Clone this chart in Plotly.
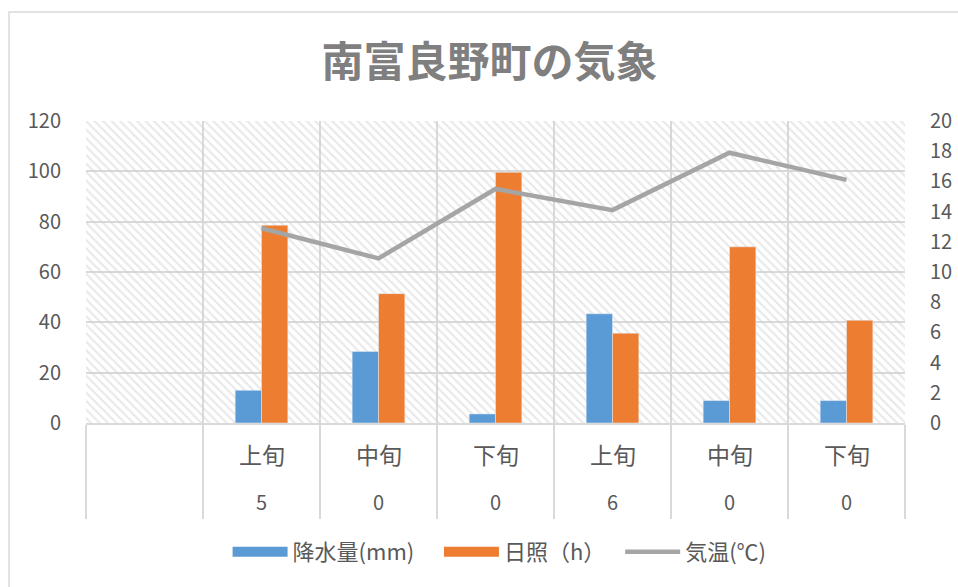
import plotly.graph_objects as go

# 旬別の気象データ(南富良野町)
periods = ["", "上旬", "中旬", "下旬", "上旬", "中旬", "下旬"]
months = ["", "5", "0", "0", "6", "0", "0"]
rain_mm = [None, 13.0, 28.4, 3.6, 43.4, 8.9, 8.9]
sun_h = [None, 78.6, 51.4, 99.6, 35.7, 70.0, 40.8]
temp_c = [None, 12.9, 10.9, 15.5, 14.1, 17.9, 16.1]

series_names = ["降水量(mm)", "日照（h）", "気温(℃)"]
left_ticks = list(range(0, 121, 20))
right_ticks = list(range(0, 21, 2))

BLUE = "#5b9bd5"
ORANGE = "#ed7d31"
GRAY = "#a5a5a5"
GRID = "#d9d9d9"
TEXT = "#595959"
FONT = "Noto Sans CJK JP"

pos = list(range(len(periods)))
bounds = [p - 0.5 for p in pos] + [pos[-1] + 0.5]

fig = go.Figure()

# hatched plot-area background on the base subplot
fig.add_trace(go.Scatter(
    x=[0, 1, 1, 0, 0], y=[0, 0, 1, 1, 0],
    xaxis="x", yaxis="y",
    mode="lines", fill="toself",
    line=dict(width=0), fillcolor="rgba(0,0,0,0)",
    fillpattern=dict(shape="\\", size=6, solidity=0.35,
                     fgcolor="#d2d2d2", bgcolor="rgba(0,0,0,0)"),
    hoverinfo="skip", showlegend=False,
))

fig.add_trace(go.Bar(
    x=pos, y=rain_mm, name=series_names[0], marker_color=BLUE,
    xaxis="x2", yaxis="y2", showlegend=False,
))
fig.add_trace(go.Bar(
    x=pos, y=sun_h, name=series_names[1], marker_color=ORANGE,
    xaxis="x2", yaxis="y2", showlegend=False,
))
fig.add_trace(go.Scatter(
    x=pos, y=temp_c, name=series_names[2], mode="lines",
    line=dict(color=GRAY, width=4.5),
    xaxis="x2", yaxis="y3", showlegend=False,
))

# legend entries with wide swatches
for name, color, w in [(series_names[0] + "\u00a0" * 4, BLUE, 15),
                       (series_names[1] + "\u00a0" * 2, ORANGE, 15),
                       (series_names[2], GRAY, 4.5)]:
    fig.add_trace(go.Scatter(
        x=[None], y=[None], name=name, mode="lines",
        line=dict(color=color, width=w), xaxis="x2", yaxis="y2",
    ))

# category labels (two rows)
for p, lab, mon in zip(pos, periods, months):
    fig.add_annotation(x=p, y=-0.102, xref="x2", yref="paper", text=lab,
                       showarrow=False, yanchor="middle",
                       font=dict(size=23, color=TEXT, family=FONT))
    fig.add_annotation(x=p, y=-0.26, xref="x2", yref="paper", text=mon,
                       showarrow=False, yanchor="middle",
                       font=dict(size=20, color=TEXT, family=FONT))

# outer chart frame
fig.add_shape(type="rect", xref="paper", yref="paper",
              x0=-0.094, x1=1.1, y0=-0.7, y1=1.361,
              line=dict(color=GRID, width=1.5), layer="below")

fig.update_layout(
    width=958, height=587,
    margin=dict(l=86, r=53, t=121, b=164, autoexpand=False),
    paper_bgcolor="white", plot_bgcolor="white",
    font=dict(family=FONT, color=TEXT, size=20),
    title=dict(text="<b>南富良野町の気象</b>", x=0.511, y=0.894,
               xanchor="center", yanchor="middle", yref="container",
               font=dict(size=42, color="#7f7f7f", family=FONT)),
    barmode="group", bargap=0.55, bargroupgap=0,
    showlegend=True,
    legend=dict(orientation="h", x=0.505, xanchor="center",
                y=-0.427, yanchor="middle", itemwidth=55,
                font=dict(size=22, color=TEXT, family=FONT),
                traceorder="normal"),
    xaxis=dict(domain=[0, 1], range=[0, 1], visible=False, fixedrange=True,
               automargin=False),
    yaxis=dict(domain=[0, 1], range=[0, 1], visible=False, fixedrange=True,
               automargin=False),
    xaxis2=dict(overlaying="x", anchor="y2", side="bottom",
                range=[-0.5, len(pos) - 0.5], automargin=False,
                tickmode="array", tickvals=bounds, showticklabels=False,
                ticks="outside", ticklen=94, tickwidth=2, tickcolor=GRID,
                showgrid=True, gridcolor=GRID, gridwidth=1.5,
                zeroline=False, showline=True, linecolor=GRID, linewidth=2),
    yaxis2=dict(overlaying="y", anchor="x2", side="left",
                range=[0, 120], tickvals=left_ticks, automargin=False,
                showgrid=True, gridcolor=GRID, gridwidth=1.5,
                zeroline=False, ticks="outside", ticklen=20,
                tickcolor="rgba(0,0,0,0)",
                tickfont=dict(size=20, color=TEXT, family=FONT)),
    yaxis3=dict(overlaying="y", anchor="x2", side="right",
                range=[0, 20], tickvals=right_ticks, automargin=False,
                showgrid=False, zeroline=False, ticks="outside", ticklen=20,
                tickcolor="rgba(0,0,0,0)",
                tickfont=dict(size=20, color=TEXT, family=FONT)),
)

fig.write_html("out.html")
